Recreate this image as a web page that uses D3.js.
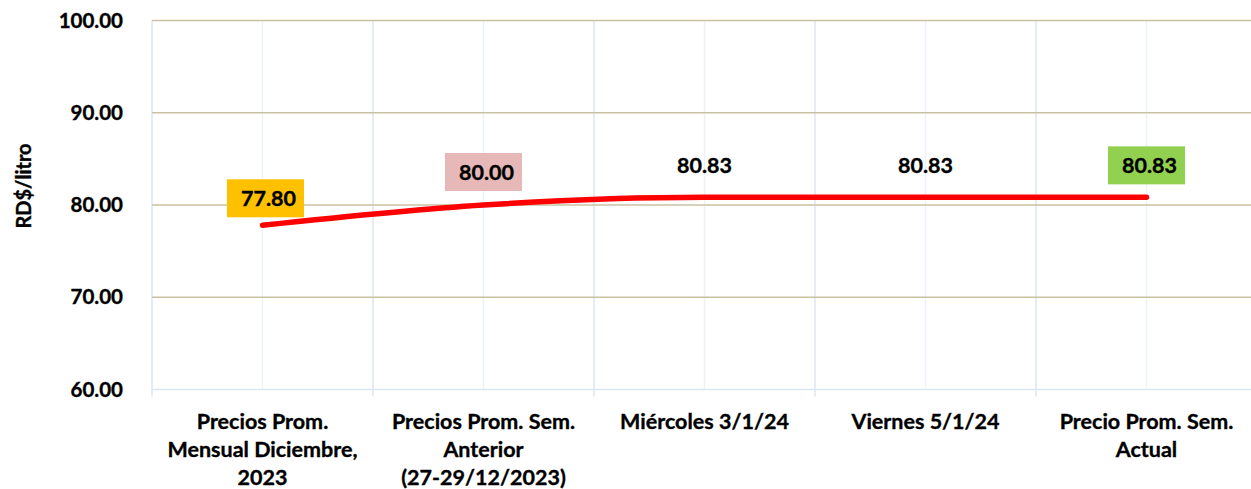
<!DOCTYPE html>
<html>
<head>
<script src="https://d3js.org/d3.v7.min.js"></script>
<style>
body { margin:0; background:#fff; }
text { font-family: Lato, "Open Sans", sans-serif; font-weight: bold; fill:#000; stroke:#000; stroke-width:0.35px; }
</style>
</head>
<body>
<svg id="chart" width="1251" height="489"></svg>
<script>
// data
const categories = [
  ["Precios Prom.", "Mensual Diciembre,", "2023"],
  ["Precios Prom. Sem.", "Anterior", "(27-29/12/2023)"],
  ["Miércoles 3/1/24"],
  ["Viernes 5/1/24"],
  ["Precio Prom. Sem.", "Actual"]
];
const values = [77.80, 80.00, 80.83, 80.83, 80.83];
const labelFills = ["#ffc000", "#e6b9b8", null, null, "#92d050"];
const yTicks = [60, 70, 80, 90, 100];

const svg = d3.select("#chart");
const plotL = 152, plotR = 1257, plotT = 20.5, plotB = 389.5;

const x = d3.scaleBand().domain(d3.range(categories.length)).range([plotL, plotR]).padding(0);
const y = d3.scaleLinear().domain([60, 100]).range([plotB, plotT]);
const cx = i => x(i) + x.bandwidth() / 2;

// vertical gridlines (centres lighter, boundaries a bit darker)
svg.append("g").selectAll("line").data(d3.range(categories.length))
  .join("line")
  .attr("x1", cx).attr("x2", cx)
  .attr("y1", plotT).attr("y2", plotB)
  .attr("stroke", "#edf2f9").attr("stroke-width", 1.5);
svg.append("g").selectAll("line").data(d3.range(categories.length + 1))
  .join("line")
  .attr("x1", d => plotL + d * x.bandwidth()).attr("x2", d => plotL + d * x.bandwidth())
  .attr("y1", plotT).attr("y2", plotB + 7)
  .attr("stroke", "#dce6f2").attr("stroke-width", 1.5);

// horizontal gridlines
svg.append("g").selectAll("line").data(yTicks.filter(t => t > 60))
  .join("line")
  .attr("x1", plotL).attr("x2", plotR)
  .attr("y1", d => y(d)).attr("y2", d => y(d))
  .attr("stroke", "#c9c2a0").attr("stroke-width", 1.5);

// x axis line
svg.append("line").attr("x1", plotL).attr("x2", plotR)
  .attr("y1", plotB).attr("y2", plotB)
  .attr("stroke", "#dce6f2").attr("stroke-width", 1.5);

// y tick labels
svg.append("g").selectAll("text").data(yTicks)
  .join("text")
  .attr("x", 123).attr("y", d => y(d))
  .attr("dy", "0.35em").attr("text-anchor", "end")
  .style("font-size", "20.5px")
  .text(d => d3.format(".2f")(d));

// y title
svg.append("text")
  .attr("transform", "translate(24,186) rotate(-90)")
  .attr("text-anchor", "middle").attr("dy", "0.35em")
  .style("font-size", "20px")
  .text("RD$/litro");

// category labels
const cat = svg.append("g").selectAll("text").data(categories)
  .join("text")
  .attr("text-anchor", "middle")
  .style("font-size", "21.5px");
cat.selectAll("tspan").data((d, i) => d.map(s => [s, i]))
  .join("tspan")
  .attr("x", d => cx(d[1]))
  .attr("y", (d, j) => 429 + j * 28)
  .text(d => d[0]);

// line
const line = d3.line()
  .x((d, i) => cx(i))
  .y(d => y(d))
  .curve(d3.curveMonotoneX);
svg.append("path").datum(values)
  .attr("d", line)
  .attr("fill", "none")
  .attr("stroke", "#ff0000")
  .attr("stroke-width", 5.5)
  .attr("stroke-linecap", "round");

// data labels
const labelDy = [-27, -33, -32, -32, -32];
const labelDx = [3, 0, 0, 0, 0];
const lab = svg.append("g").selectAll("g").data(values.map((v, i) => ({v, i})))
  .join("g")
  .attr("transform", d => `translate(${cx(d.i) + labelDx[d.i]},${y(d.v) + labelDy[d.i]})`);
lab.filter(d => labelFills[d.i])
  .append("rect")
  .attr("x", -38.5).attr("y", -19).attr("width", 77).attr("height", 38)
  .attr("fill", d => labelFills[d.i]);
lab.append("text")
  .attr("x", d => labelFills[d.i] ? 3 : 0)
  .attr("text-anchor", "middle").attr("dy", "0.35em")
  .style("font-size", "21.5px")
  .text(d => d3.format(".2f")(d.v));
</script>
</body>
</html>
